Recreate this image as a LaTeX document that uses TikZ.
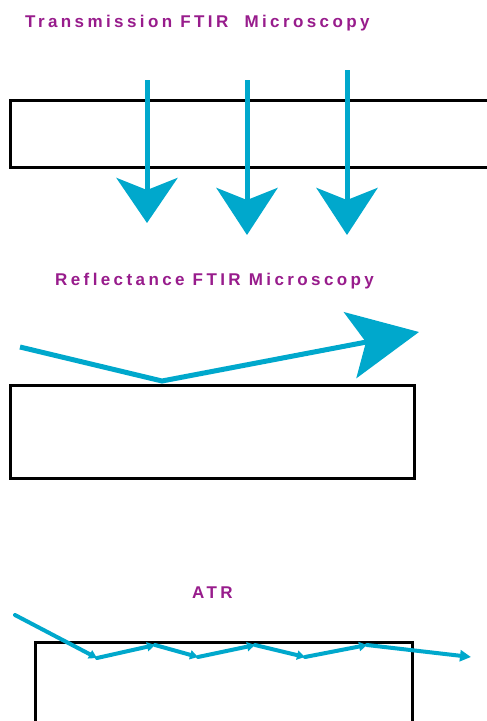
\documentclass[tikz,border=0pt]{standalone}
\usepackage{fontspec}
\setmainfont{Liberation Sans}
\newfontfamily\titlefont[LetterSpace=20]{Liberation Sans Bold}
\usetikzlibrary{arrows.meta}
\definecolor{ray}{RGB}{0,168,204}
\definecolor{ttl}{RGB}{152,28,140}
\tikzset{
  ttlnode/.style={text=ttl, font=\titlefont\fontsize{17}{20}\selectfont, inner sep=0pt},
  sample/.style={draw=black, line width=3pt, fill=none},
  beam/.style={draw=ray, line width=5pt},
  bigtip/.style={-{Stealth[length=45pt,width=61pt,inset=12pt]}},
  bigtipb/.style={-{Stealth[length=47pt,width=61pt,inset=12pt]}},
  refltip/.style={-{Stealth[length=70pt,width=67pt,inset=16pt]}},
  atrbeam/.style={draw=ray, line width=4pt, line cap=round, -{Triangle[length=8pt,width=9pt]}},
  atrend/.style={draw=ray, line width=4pt, line cap=round, -{Triangle[length=11pt,width=11pt]}},
}
\begin{document}
\begin{tikzpicture}[x=1pt,y=-1pt]
\useasboundingbox (0,0) rectangle (487,721);
\clip (0,0) rectangle (487,721);
\fill[white] (0,0) rectangle (487,721);

% ---- Transmission ----
\node[ttlnode, anchor=base west] (t1) at (25,27) {Transmission FTIR\ \ Microscopy};
\draw[sample] (10,100) rectangle (500,167);
\coordinate (a1s) at (147,80);  \coordinate (a1e) at (147,223);
\coordinate (a2s) at (247,80);  \coordinate (a2e) at (247,235);
\coordinate (a3s) at (347,70);  \coordinate (a3e) at (347,235);
\draw[beam, bigtip]  (a1s) -- (a1e);
\draw[beam, bigtipb] (a2s) -- (a2e);
\draw[beam, bigtipb] (a3s) -- (a3e);

% ---- Reflectance ----
\node[ttlnode, anchor=base west] (t2) at (55,285) {Reflectance FTIR Microscopy};
\draw[sample] (10,385) rectangle (414,478);
\coordinate (r0) at (20,347);
\coordinate (r1) at (162,381);
\coordinate (r2) at (419,332);
\draw[beam, line join=miter, refltip] (r0) -- (r1) -- (r2);

% ---- ATR ----
\node[ttlnode, anchor=base west] (t3) at (192,598) {ATR};
\draw[sample] (35,642) rectangle (412,740);
\coordinate (z0) at (15,615);
\coordinate (z1) at (97,658);
\coordinate (z2) at (155,645);
\coordinate (z3) at (198,657);
\coordinate (z4) at (255,645);
\coordinate (z5) at (305,657);
\coordinate (z6) at (367,645);
\coordinate (z7) at (471,657);
\draw[atrbeam] (z0) -- (z1);
\draw[atrbeam] (z1) -- (z2);
\draw[atrbeam] (z2) -- (z3);
\draw[atrbeam] (z3) -- (z4);
\draw[atrbeam] (z4) -- (z5);
\draw[atrbeam] (z5) -- (z6);
\draw[atrend] (z6) -- (z7);
\end{tikzpicture}
\end{document}
